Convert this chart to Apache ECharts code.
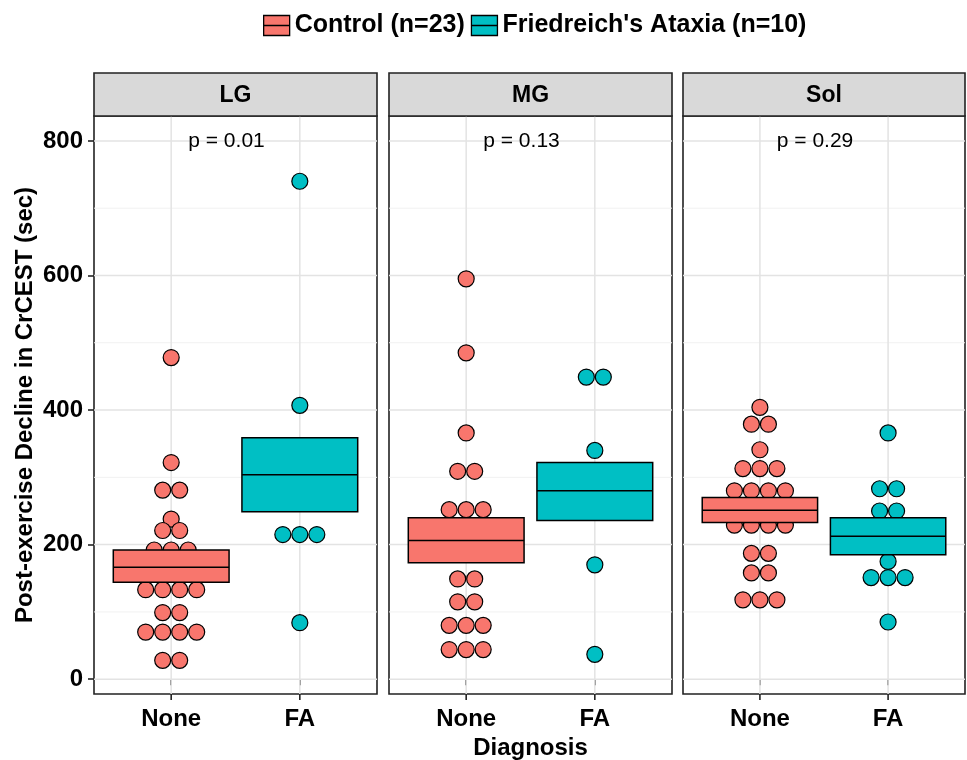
<!DOCTYPE html>
<html><head><meta charset="utf-8">
<script src="https://cdn.jsdelivr.net/npm/echarts@6/dist/echarts.min.js"></script>
<style>html,body{margin:0;padding:0;background:#fff}#c{width:967px;height:760px}</style>
</head><body><div id="c"></div>
<script>
// ---------- data ----------
const panels = ['LG', 'MG', 'Sol'];
const categories = ['None', 'FA'];
const pValues = ['p = 0.01', 'p = 0.13', 'p = 0.29'];
const yTicks = [0, 200, 400, 600, 800];
const yMinor = [100, 300, 500, 700];
const groupNames = ['Control (n=23)', "Friedreich's Ataxia (n=10)"];

const LG_None = [478, 322, 281, 281, 238, 221, 221, 192, 192, 192, 166, 133, 133, 133, 133, 99, 99, 70, 70, 70, 70, 28, 28];
const LG_FA = [740, 407, 310, 290, 290, 274, 215, 215, 215, 84];
const MG_None = [595, 485, 366, 309, 309, 252, 252, 252, 224, 224, 190, 190, 190, 149, 149, 115, 115, 80, 80, 80, 44, 44, 44];
const MG_FA = [449, 449, 340, 282, 282, 282, 255, 255, 170, 37];
const Sol_None = [404, 379, 379, 341, 313, 313, 313, 280, 280, 280, 280, 250, 229, 229, 229, 229, 187, 187, 158, 158, 118, 118, 118];
const Sol_FA = [366, 283, 283, 250, 250, 175, 151, 151, 151, 85];

// crossbar: [low, middle, high]
const LG_None_bar = [144, 166.5, 192];
const LG_FA_bar = [249, 304, 359];
const MG_None_bar = [173, 206, 240];
const MG_FA_bar = [236, 280, 322];
const Sol_None_bar = [233, 251, 270];
const Sol_FA_bar = [185, 212.6, 240];

const dotsByPanel = [[LG_None, LG_FA], [MG_None, MG_FA], [Sol_None, Sol_FA]];
const barsByPanel = [[LG_None_bar, LG_FA_bar], [MG_None_bar, MG_FA_bar], [Sol_None_bar, Sol_FA_bar]];

// ---------- style / layout ----------
const colors = ['#F8766D', '#00BFC4'];
const FONT = '"Liberation Sans", Arial, Helvetica, sans-serif';
const gridLeft = [94, 389, 683];
const gridWidth = [283, 283, 282];
const gridTop = 116, gridHeight = 578;
const stripTop = 73, stripH = 43;
const DOT_STEP = 17, DOT_R = 8;

function dotData(vals, xi) {
  const counts = {};
  vals.forEach(v => { counts[v] = (counts[v] || 0) + 1; });
  const seen = {};
  return vals.map(v => {
    const k = seen[v] || 0;
    seen[v] = k + 1;
    return [xi, v, k, counts[v]];
  });
}

const grids = [], xAxes = [], yAxes = [], series = [], graphics = [];
panels.forEach((name, pi) => {
  grids.push({left: gridLeft[pi], width: gridWidth[pi], top: gridTop, height: gridHeight,
    show: true, borderColor: '#222', borderWidth: 1.6, backgroundColor: '#fff',
    containLabel: false, outerBoundsMode: 'none'});
  xAxes.push({
    type: 'value', gridIndex: pi, min: 0.4, max: 2.6,
    axisLine: {show: false},
    axisTick: {show: true, customValues: [1, 2], length: 6, lineStyle: {color: '#222', width: 1.6}},
    axisLabel: {show: true, customValues: [1, 2], margin: 13,
      formatter: v => categories[Math.round(v) - 1] || '',
      fontFamily: FONT, fontWeight: 'bold', fontSize: 24, color: '#000'},
    splitLine: {show: false},
    name: pi === 1 ? 'Diagnosis' : '',
    nameLocation: 'middle', nameGap: 41,
    nameTextStyle: {fontFamily: FONT, fontWeight: 'bold', fontSize: 24, color: '#000'}
  });
  yAxes.push({
    type: 'value', gridIndex: pi, min: -22, max: 837,
    axisLine: {show: false},
    axisTick: {show: pi === 0, customValues: yTicks, length: 6, lineStyle: {color: '#222', width: 1.6}},
    axisLabel: {show: pi === 0, customValues: yTicks, margin: 11,
      fontFamily: FONT, fontWeight: 'bold', fontSize: 24, color: '#000'},
    splitLine: {show: false},
    name: pi === 0 ? 'Post-exercise Decline in CrCEST (sec)' : '',
    nameLocation: 'middle', nameGap: 57,
    nameTextStyle: {fontFamily: FONT, fontWeight: 'bold', fontSize: 24, color: '#000'}
  });

  // grid lines (major + minor) and x tick marks, drawn through the axes' scales
  const gl = [];
  yMinor.forEach(v => gl.push(['h', v, 0]));
  yTicks.forEach(v => gl.push(['h', v, 1]));
  [1, 2].forEach(v => gl.push(['v', v, 1]));
  [1, 2].forEach(v => gl.push(['t', v, 1]));
  series.push({
    type: 'custom', name: 'grid' + pi, xAxisIndex: pi, yAxisIndex: pi, silent: true, z: 1, clip: false,
    data: gl.map(g => [g[0] === 'h' ? 1 : g[1], g[0] === 'h' ? g[1] : 0, g[0] === 'h' ? 0 : (g[0] === 'v' ? 1 : 2), g[2]]),
    encode: {x: 0, y: 1},
    renderItem: (params, api) => {
      const cs = params.coordSys;
      const kind = api.value(2), major = api.value(3) === 1;
      const st = {stroke: major ? '#e3e3e3' : '#f1f1f1', lineWidth: major ? 1.5 : 1};
      if (kind === 1) {
        const x = api.coord([api.value(0), 0])[0];
        return {type: 'line', shape: {x1: x, y1: cs.y, x2: x, y2: cs.y + cs.height}, style: st};
      }
      if (kind === 2) {
        const x = api.coord([api.value(0), 0])[0];
        const yb = cs.y + cs.height;
        return {type: 'line', shape: {x1: x, y1: yb, x2: x, y2: yb + 6}, style: {stroke: '#222', lineWidth: 1.6}};
      }
      const y = api.coord([1, api.value(1)])[1];
      return {type: 'line', shape: {x1: cs.x, y1: y, x2: cs.x + cs.width, y2: y}, style: st};
    }
  });

  [0, 1].forEach(gi => {
    const col = colors[gi];
    series.push({
      type: 'custom', name: groupNames[gi], xAxisIndex: pi, yAxisIndex: pi, z: 3,
      itemStyle: {color: col},
      data: dotData(dotsByPanel[pi][gi], gi + 1),
      encode: {x: 0, y: 1},
      renderItem: (params, api) => {
        const p = api.coord([api.value(0), api.value(1)]);
        const k = api.value(2), n = api.value(3);
        return {type: 'circle', shape: {cx: p[0] + (k - (n - 1) / 2) * DOT_STEP, cy: p[1], r: DOT_R},
          style: {fill: col, stroke: '#000', lineWidth: 1.2}};
      }
    });
    const b = barsByPanel[pi][gi];
    series.push({
      type: 'custom', name: groupNames[gi], xAxisIndex: pi, yAxisIndex: pi, z: 4,
      itemStyle: {color: col},
      data: [[gi + 1, b[0], b[1], b[2]]],
      encode: {x: 0, y: [1, 2, 3]},
      renderItem: (params, api) => {
        const x = api.value(0);
        const a = api.coord([x - 0.45, api.value(3)]);
        const c = api.coord([x + 0.45, api.value(1)]);
        const m = api.coord([x, api.value(2)]);
        return {type: 'group', children: [
          {type: 'rect', shape: {x: a[0], y: a[1], width: c[0] - a[0], height: c[1] - a[1]},
            style: {fill: col, stroke: '#000', lineWidth: 1.5}},
          {type: 'line', shape: {x1: a[0], y1: m[1], x2: c[0], y2: m[1]},
            style: {stroke: '#000', lineWidth: 1.5}}
        ]};
      }
    });
  });

  series.push({
    type: 'custom', name: 'p' + pi, xAxisIndex: pi, yAxisIndex: pi, z: 5, silent: true,
    data: [[1.43, 800]],
    encode: {x: 0, y: 1},
    renderItem: (params, api) => {
      const p = api.coord([api.value(0), api.value(1)]);
      return {type: 'text', x: p[0], y: p[1], style: {text: pValues[pi], font: '21px ' + FONT,
        fill: '#000', align: 'center', verticalAlign: 'middle'}};
    }
  });

  graphics.push({type: 'rect', shape: {x: gridLeft[pi], y: stripTop, width: gridWidth[pi], height: stripH},
    style: {fill: '#D9D9D9', stroke: '#222', lineWidth: 1.6}, z: 10});
  graphics.push({type: 'text', x: gridLeft[pi] + gridWidth[pi] / 2, y: stripTop + stripH / 2 + 1,
    style: {text: name, font: 'bold 23px ' + FONT, fill: '#000', align: 'center', verticalAlign: 'middle'}, z: 11});
});

const chart = echarts.init(document.getElementById('c'), null, {renderer: 'canvas'});
chart.setOption({
  animation: false,
  backgroundColor: '#fff',
  legend: {
    top: 8, left: 258, itemWidth: 26, itemHeight: 20, itemGap: 6,
    icon: 'path://M0,0H26V20H0Z M0,10H26',
    itemStyle: {borderColor: '#000', borderWidth: 1.3},
    textStyle: {fontFamily: FONT, fontWeight: 'bold', fontSize: 25, color: '#000'},
    selectedMode: false,
    data: groupNames
  },
  grid: grids, xAxis: xAxes, yAxis: yAxes, series: series, graphic: graphics
});
</script></body></html>
